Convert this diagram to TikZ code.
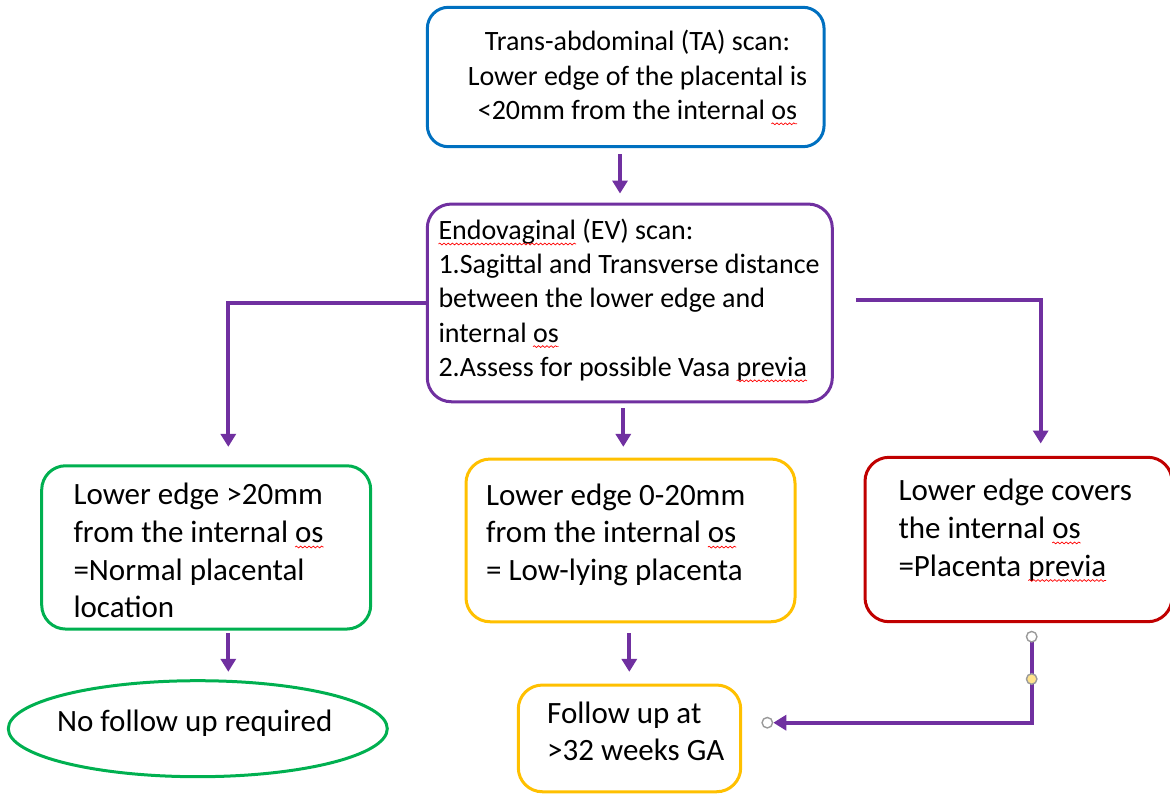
\documentclass[tikz,border=0pt]{standalone}
\usepackage{fontspec}
\setmainfont{Carlito}
\usetikzlibrary{arrows.meta,shapes.geometric,decorations.pathmorphing}
\newcommand\spellerr[1]{\tikz[baseline=(sw.base),x=1pt,y=1pt]{\node[inner sep=0pt,outer sep=0pt,anchor=base west] (sw) at (0,0) {#1};\draw[overlay,draw=red,line width=0.7pt,decorate,decoration={snake,amplitude=0.9pt,segment length=4.2pt}] ([yshift=-4.5pt]sw.base west) -- ([yshift=-4.5pt]sw.base east);}}
\definecolor{tablue}{HTML}{0070C0}
\definecolor{evpurple}{HTML}{7030A0}
\definecolor{okgreen}{HTML}{00B050}
\definecolor{lowyellow}{HTML}{FFC000}
\definecolor{prevred}{HTML}{C00000}
\definecolor{handlegrey}{HTML}{9A9A9A}
\definecolor{handlefill}{HTML}{FFE38C}
\begin{document}
\begin{tikzpicture}[x=1pt,y=-1pt,
  box/.style={draw, line width=3pt, rounded corners=24pt, inner sep=0pt},
  smalltxt/.style={inner sep=0pt, font=\fontsize{28pt}{34.2pt}\selectfont},
  bigtxt/.style={inner sep=0pt, font=\fontsize{31pt}{37.6pt}\selectfont},
  arr/.style={draw=evpurple, line width=3.8pt, -{Triangle[length=13pt,width=15pt]}},
  handle/.style={circle, draw=handlegrey, line width=1.4pt, fill=white, minimum size=10.5pt, inner sep=0pt}]
\useasboundingbox (0,0) rectangle (1170,795);

% boxes
\node[box, draw=tablue, rounded corners=21pt, minimum width=396.7pt, minimum height=139.4pt] (ta) at (625.7,77) {};
\node[box, draw=evpurple, minimum width=405pt, minimum height=197.7pt] (ev) at (629.8,302.9) {};
\node[box, draw=okgreen, minimum width=329pt, minimum height=163.3pt] (grn) at (206.2,547.4) {};
\node[box, draw=lowyellow, minimum width=329pt, minimum height=162.7pt] (yel) at (630.5,540.4) {};
\node[box, draw=prevred, minimum width=307pt, minimum height=164.4pt] (red) at (1018.5,539.5) {};
\node[box, draw=lowyellow, minimum width=222.4pt, minimum height=106.7pt] (fol) at (629.5,738.4) {};
\node[draw=okgreen, line width=3pt, ellipse, minimum width=379pt, minimum height=96pt, inner sep=0pt] (ell) at (197.8,728.7) {};

% texts (anchored at the baseline of the last line)
\node[smalltxt, anchor=base, align=center] (tat) at (637.5,119.3)
  {Trans-abdominal (TA) scan:\\Lower edge of the placental is\\<20mm from the internal \spellerr{os}};
\node[smalltxt, anchor=base west, align=left] (evt) at (438.3,376.3)
  {\spellerr{Endovaginal} (EV) scan:\\1.Sagittal and Transverse distance\\between the lower edge and\\internal \spellerr{os}\\2.Assess for possible Vasa \spellerr{previa}};
\node[bigtxt, anchor=base west, align=left] (grnt) at (73.3,617.7)
  {Lower edge >20mm\\from the internal \spellerr{os}\\=Normal placental\\location};
\node[bigtxt, anchor=base west, align=left] (yelt) at (486,580.2)
  {Lower edge 0-20mm\\from the internal \spellerr{os}\\= Low-lying placenta};
\node[bigtxt, anchor=base west, align=left] (redt) at (898.3,576)
  {Lower edge covers\\the internal \spellerr{os}\\=Placenta \spellerr{previa}};
\node[bigtxt, anchor=base west, align=left] (folt) at (547,760.7)
  {Follow up at\\>32 weeks GA};
\node[bigtxt, anchor=base] (ellt) at (194.7,731.7) {No follow up required};

% connectors
\draw[arr, shorten <=6pt, shorten >=9pt] ([xshift=-5.7pt]ta.south) -- ([xshift=-5.7pt]ta.south |- ev.north);
\draw[arr, shorten <=5pt, shorten >=10.7pt] ([xshift=-6.5pt]ev.south) -- ([xshift=-6.5pt]ev.south |- yel.north);
\draw[arr, shorten >=17.4pt] (ev.west) -| ([xshift=22.1pt]grn.north);
\draw[arr, shorten <=22pt, shorten >=12.3pt] ([yshift=2.9pt]ev.east) -| ([xshift=22.2pt]red.north);
\draw[arr, shorten <=2.7pt, shorten >=7.4pt] ([xshift=22.1pt]grn.south) -- ([xshift=22.1pt]grn.south |- ell.north);
\draw[arr, shorten <=10pt, shorten >=11.7pt] ([xshift=-1.2pt]yel.south) -- ([xshift=-1.2pt]yel.south |- fol.north);

\coordinate (cs) at (1031.7,636.7);
\coordinate (cm) at (1031.7,679);
\coordinate (ce) at (767.3,722.7);
\draw[arr, shorten <=5pt, shorten >=6pt] (cs) |- (ce);
\node[handle] (h1) at (cs) {};
\node[handle, fill=handlefill] (h2) at (cm) {};
\node[handle] (h3) at (ce) {};
\end{tikzpicture}
\end{document}
